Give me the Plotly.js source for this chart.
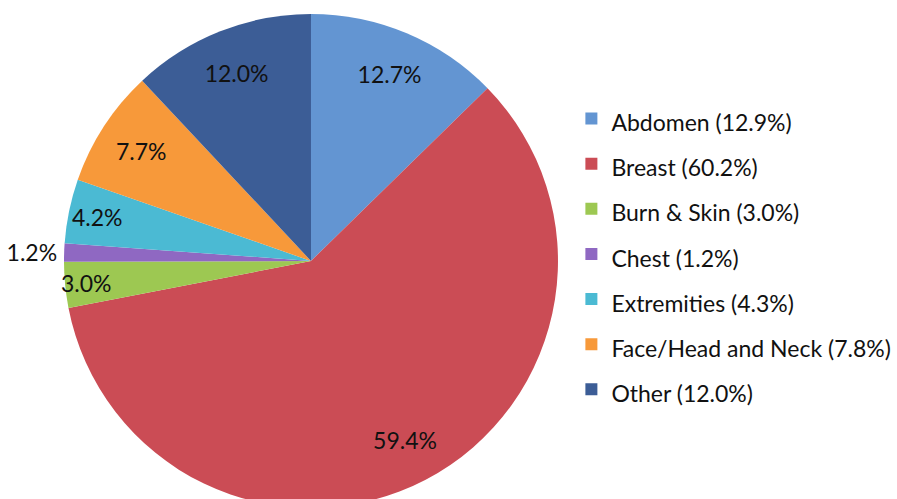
<!DOCTYPE html>
<html>
<head>
<meta charset="utf-8">
<script src="https://cdn.plot.ly/plotly-3.0.1.min.js"></script>
<style>
html, body { margin: 0; padding: 0; overflow: hidden; background: #fff; }
#chart { width: 897px; height: 520px; }
</style>
</head>
<body>
<div id="chart"></div>
<script>
const categories = ["Abdomen", "Breast", "Burn & Skin", "Chest", "Extremities", "Face/Head and Neck", "Other"];
const legendPercents = ["12.9%", "60.2%", "3.0%", "1.2%", "4.3%", "7.8%", "12.0%"];
const sliceValues = [12.7, 59.4, 3.0, 1.2, 4.2, 7.7, 12.0];
const sliceColors = ["#6395D2", "#CB4C55", "#9DC852", "#8F68C2", "#4BBAD3", "#F7993A", "#3C5D96"];

const legendLabels = categories.map((c, i) =>
  '<span style="font-size:23px">' + c + ' (' + legendPercents[i] + ')</span>');
const sliceText = sliceValues.map(v => v.toFixed(1) + '%');
const textPos = sliceValues.map(v => v < 2 ? 'outside' : 'inside');
const pieDomain = { x: [0, 0.6934], y: [0.0231, 0.9731] };
const labelFont = { family: 'Lato, sans-serif', size: 23, color: '#111111' };

const slices = {
  type: 'pie',
  labels: legendLabels,
  values: sliceValues,
  textinfo: 'none',
  sort: false,
  direction: 'clockwise',
  rotation: 0,
  marker: { colors: sliceColors, line: { width: 0 } },
  domain: pieDomain,
  hoverinfo: 'skip'
};

const labelRing = {
  type: 'pie',
  labels: categories,
  values: sliceValues,
  text: sliceText,
  textinfo: 'text',
  textposition: textPos,
  insidetextorientation: 'horizontal',
  hole: 0.64,
  sort: false,
  direction: 'clockwise',
  rotation: 0,
  showlegend: false,
  marker: { colors: sliceColors.map(() => 'rgba(0,0,0,0)'), line: { width: 0 } },
  textfont: labelFont,
  outsidetextfont: labelFont,
  domain: pieDomain,
  hoverinfo: 'skip'
};

const layout = {
  width: 897,
  height: 520,
  margin: { l: 0, r: 0, t: 0, b: 0 },
  paper_bgcolor: '#ffffff',
  showlegend: true,
  uniformtext: { minsize: 23, mode: 'show' },
  legend: {
    x: 0.637, xanchor: 'left',
    y: 0.825, yanchor: 'top',
    font: { family: 'Lato, sans-serif', size: 32.4, color: '#111111' },
    itemwidth: 30
  }
};

Plotly.newPlot('chart', [slices, labelRing], layout, { displayModeBar: false, staticPlot: true });
</script>
</body>
</html>
